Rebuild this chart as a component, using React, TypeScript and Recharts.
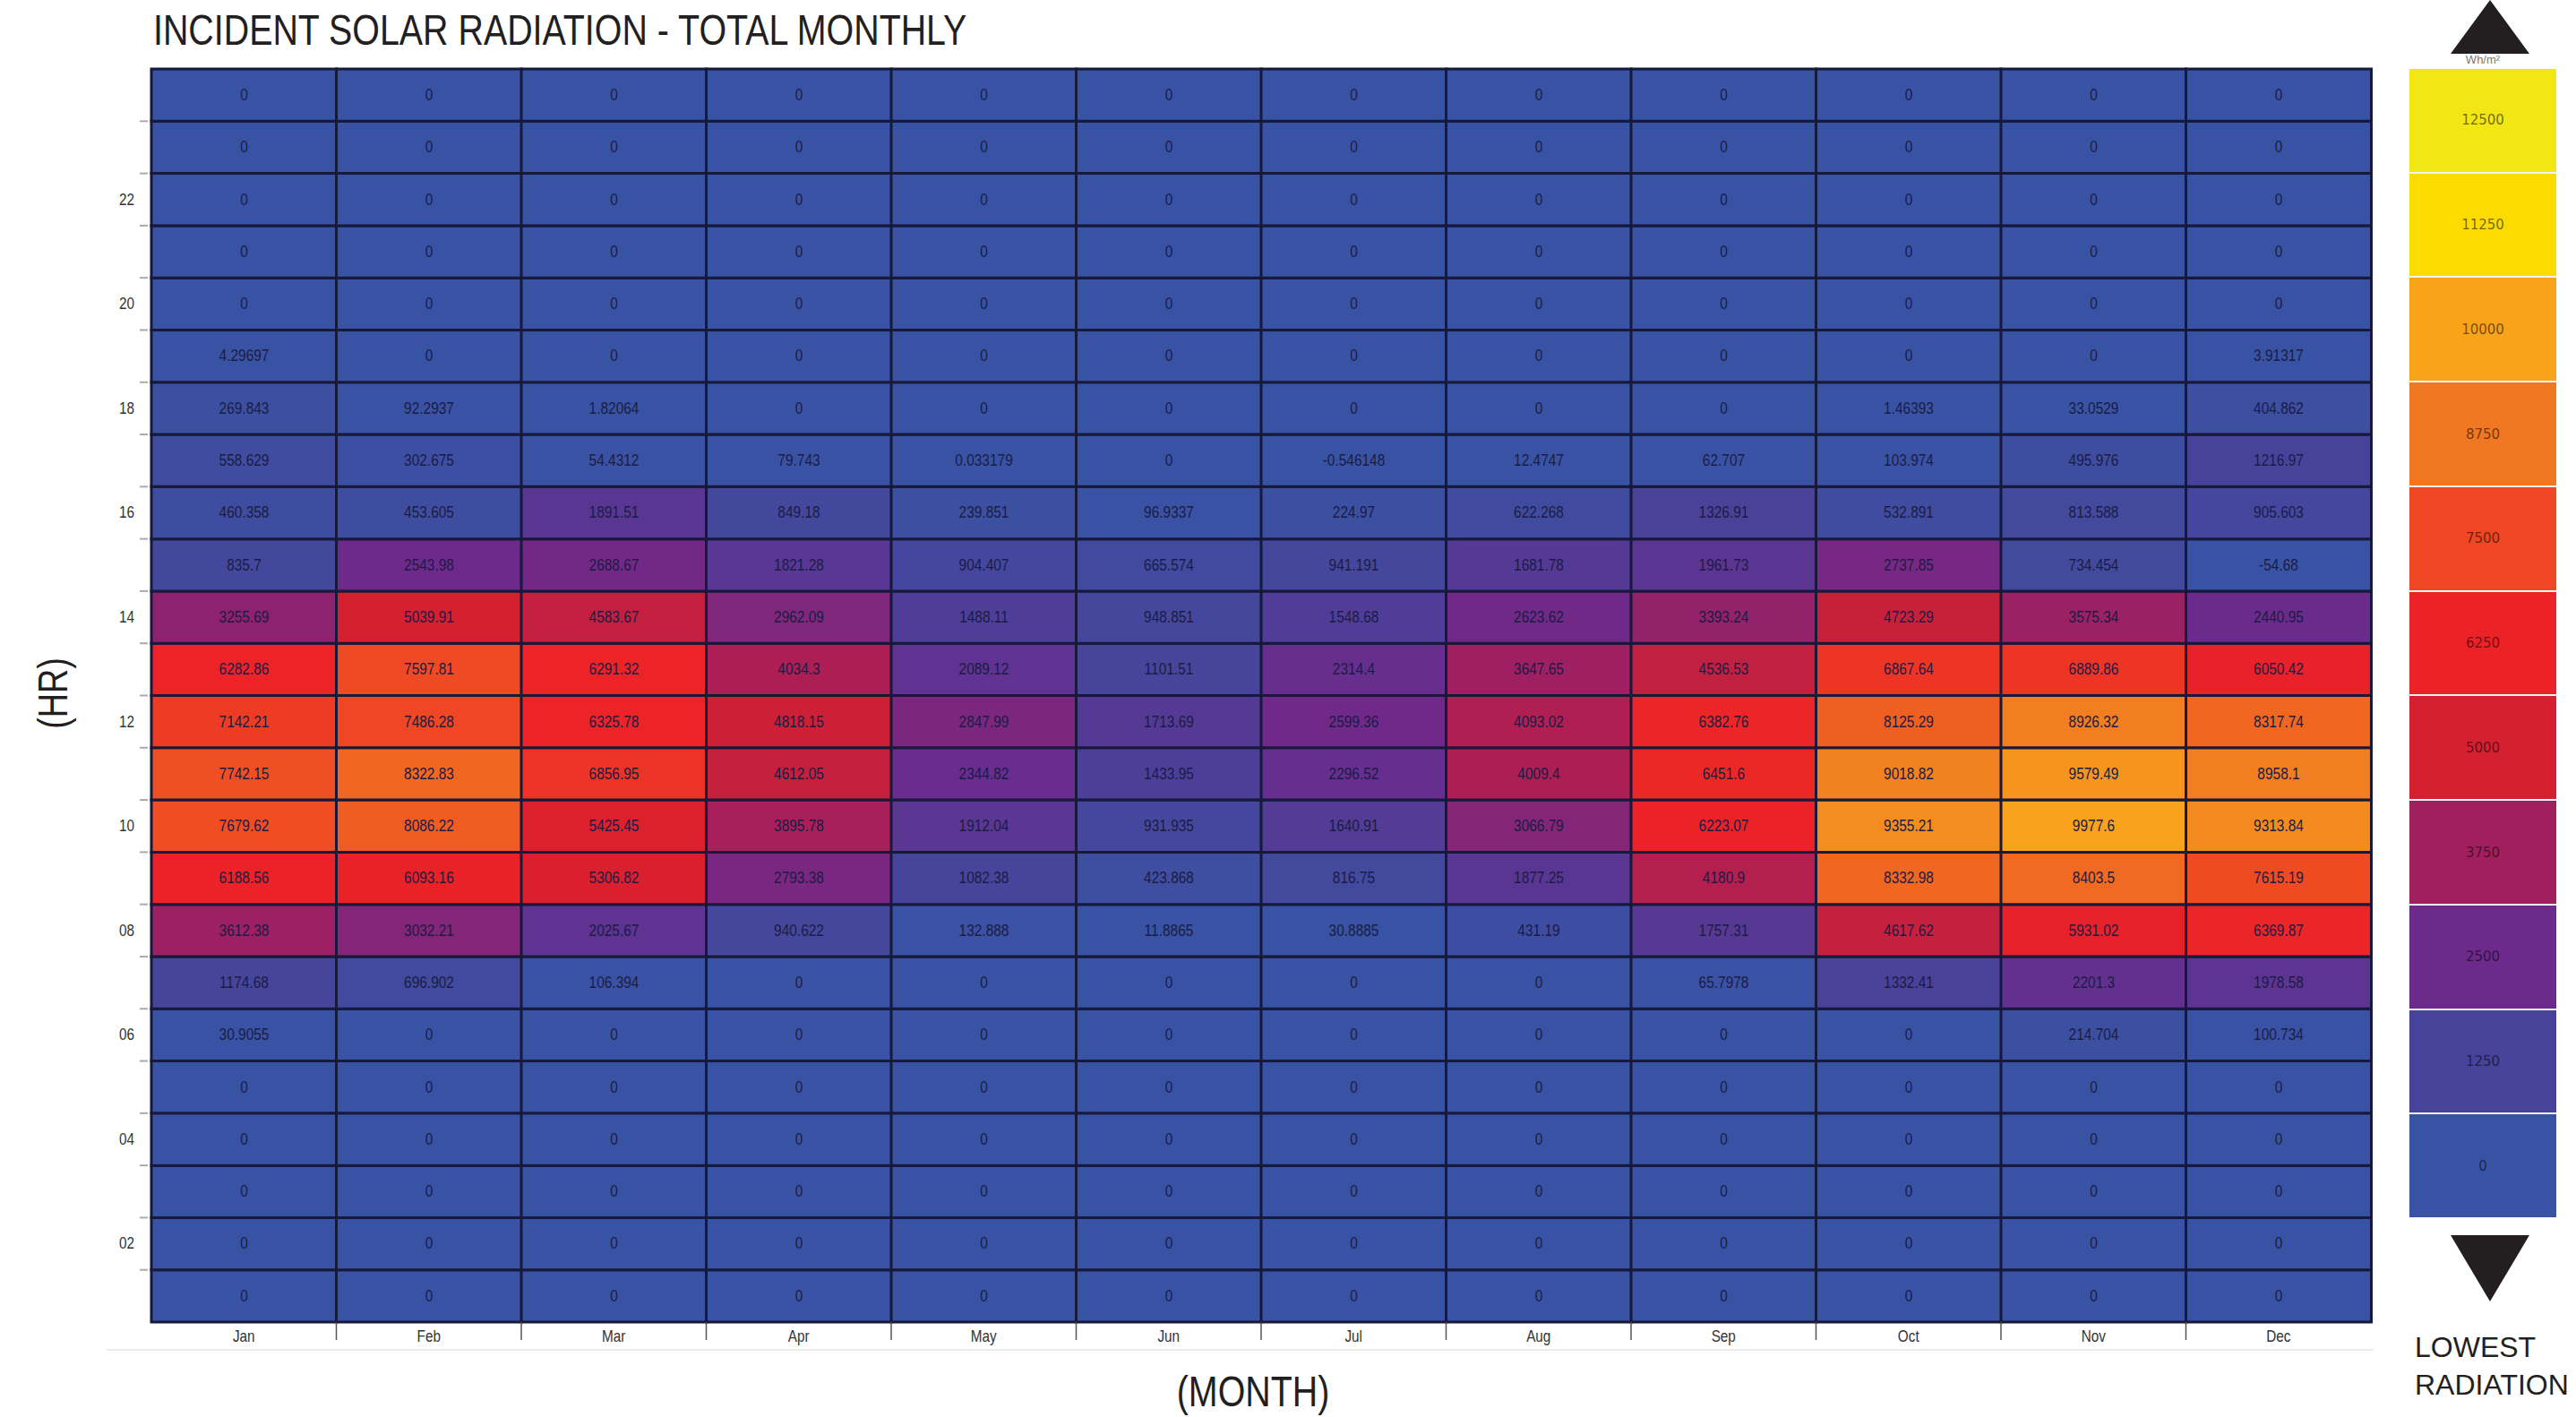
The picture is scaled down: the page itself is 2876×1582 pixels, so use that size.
import React from "react";
import { BarChart, Bar, Cell, LabelList, XAxis, YAxis } from "recharts";

const MONTHS = ["Jan", "Feb", "Mar", "Apr", "May", "Jun", "Jul", "Aug", "Sep", "Oct", "Nov", "Dec"];
const HOURS = [1, 2, 3, 4, 5, 6, 7, 8, 9, 10, 11, 12, 13, 14, 15, 16, 17, 18, 19, 20, 21, 22, 23, 24];
// centre of every hour slot (slot h spans h-1..h)
const HOUR_TICKS = [0.5, 1.5, 2.5, 3.5, 4.5, 5.5, 6.5, 7.5, 8.5, 9.5, 10.5, 11.5, 12.5, 13.5, 14.5, 15.5, 16.5, 17.5, 18.5, 19.5, 20.5, 21.5, 22.5, 23.5];
const LABELLED_HOURS = [2, 4, 6, 8, 10, 12, 14, 16, 18, 20, 22];

// Wh/m2 per hour slot, Jan..Dec
const night = [0, 0, 0, 0, 0, 0, 0, 0, 0, 0, 0, 0];
const hr06 = [30.9055, 0, 0, 0, 0, 0, 0, 0, 0, 0, 214.704, 100.734];
const hr07 = [1174.68, 696.902, 106.394, 0, 0, 0, 0, 0, 65.7978, 1332.41, 2201.3, 1978.58];
const hr08 = [3612.38, 3032.21, 2025.67, 940.622, 132.888, 11.8865, 30.8885, 431.19, 1757.31, 4617.62, 5931.02, 6369.87];
const hr09 = [6188.56, 6093.16, 5306.82, 2793.38, 1082.38, 423.868, 816.75, 1877.25, 4180.9, 8332.98, 8403.5, 7615.19];
const hr10 = [7679.62, 8086.22, 5425.45, 3895.78, 1912.04, 931.935, 1640.91, 3066.79, 6223.07, 9355.21, 9977.6, 9313.84];
const hr11 = [7742.15, 8322.83, 6856.95, 4612.05, 2344.82, 1433.95, 2296.52, 4009.4, 6451.6, 9018.82, 9579.49, 8958.1];
const hr12 = [7142.21, 7486.28, 6325.78, 4818.15, 2847.99, 1713.69, 2599.36, 4093.02, 6382.76, 8125.29, 8926.32, 8317.74];
const hr13 = [6282.86, 7597.81, 6291.32, 4034.3, 2089.12, 1101.51, 2314.4, 3647.65, 4536.53, 6867.64, 6889.86, 6050.42];
const hr14 = [3255.69, 5039.91, 4583.67, 2962.09, 1488.11, 948.851, 1548.68, 2623.62, 3393.24, 4723.29, 3575.34, 2440.95];
const hr15 = [835.7, 2543.98, 2688.67, 1821.28, 904.407, 665.574, 941.191, 1681.78, 1961.73, 2737.85, 734.454, -54.68];
const hr16 = [460.358, 453.605, 1891.51, 849.18, 239.851, 96.9337, 224.97, 622.268, 1326.91, 532.891, 813.588, 905.603];
const hr17 = [558.629, 302.675, 54.4312, 79.743, 0.033179, 0, -0.546148, 12.4747, 62.707, 103.974, 495.976, 1216.97];
const hr18 = [269.843, 92.2937, 1.82064, 0, 0, 0, 0, 0, 0, 1.46393, 33.0529, 404.862];
const hr19 = [4.29697, 0, 0, 0, 0, 0, 0, 0, 0, 0, 0, 3.91317];

// hour 1 .. hour 24
const ROWS = [
  night, night, night, night, night,
  hr06, hr07, hr08, hr09, hr10, hr11, hr12, hr13, hr14, hr15, hr16, hr17, hr18, hr19,
  night, night, night, night, night,
];

const LEGEND_VALUES = [0, 1250, 2500, 3750, 5000, 6250, 7500, 8750, 10000, 11250, 12500];
const LEGEND_COLORS = [
  "#3953a4", "#48439a", "#6c2a8c", "#a21f5e", "#d42030", "#ec2227",
  "#ef4623", "#f07822", "#f9a31b", "#fcdc00", "#f2e614",
];

function hex(c: string) {
  return [1, 3, 5].map((i) => parseInt(c.slice(i, i + 2), 16));
}

function colorFor(v: number) {
  if (v <= LEGEND_VALUES[0]) return LEGEND_COLORS[0];
  for (let i = 1; i < LEGEND_VALUES.length; i++) {
    if (v <= LEGEND_VALUES[i]) {
      const t = (v - LEGEND_VALUES[i - 1]) / (LEGEND_VALUES[i] - LEGEND_VALUES[i - 1]);
      const a = hex(LEGEND_COLORS[i - 1]);
      const b = hex(LEGEND_COLORS[i]);
      const m = a.map((x, k) => Math.round(x + (b[k] - x) * t));
      return `rgb(${m[0]},${m[1]},${m[2]})`;
    }
  }
  return LEGEND_COLORS[LEGEND_COLORS.length - 1];
}

// each month: one stacked slot per hour, plus the value shown in it
const data = MONTHS.map((month, i) => {
  const row: Record<string, string | number> = { month };
  HOURS.forEach((h) => {
    row[`h${h}`] = 1;
    row[`v${h}`] = ROWS[h - 1][i];
  });
  return row;
});

const W = 2876;
const H = 1582;
const PLOT = { left: 169, top: 77, right: 2647, bottom: 1476 };
const ROW_H = (PLOT.bottom - PLOT.top) / 24;
const COL_W = (PLOT.right - PLOT.left) / 12;
const SANS = "'Liberation Sans', Arial, sans-serif";

function HourTick(props: any) {
  const { y, payload } = props;
  const hour = payload.value + 0.5;
  const edge = y - ROW_H / 2;
  return (
    <g>
      {hour < 24 && (
        <line x1={PLOT.left - 13} x2={PLOT.left - 4} y1={edge} y2={edge} stroke="#aaa" strokeWidth={2} />
      )}
      {LABELLED_HOURS.includes(hour) && (
        <text
          x={150}
          y={y}
          textAnchor="end"
          dominantBaseline="central"
          fontSize={18}
          fontFamily={SANS}
          fill="#333"
          transform={`translate(150 ${y}) scale(0.85 1) translate(-150 ${-y})`}
        >
          {String(hour).padStart(2, "0")}
        </text>
      )}
    </g>
  );
}

function MonthTick(props: any) {
  const { x, payload, index } = props;
  const edge = x + COL_W / 2;
  return (
    <g>
      {index < MONTHS.length - 1 && (
        <line x1={edge} x2={edge} y1={PLOT.bottom} y2={PLOT.bottom + 20} stroke="#555" strokeWidth={1.5} />
      )}
      <text
        x={x}
        y={PLOT.bottom + 16}
        textAnchor="middle"
        dominantBaseline="central"
        fontSize={18}
        fontFamily={SANS}
        fill="#333"
        transform={`translate(${x} 0) scale(0.85 1) translate(${-x} 0)`}
      >
        {payload.value}
      </text>
    </g>
  );
}

function CellLabel(props: any) {
  const { x, y, width, height, value } = props;
  const cx = x + width / 2;
  const cy = y + height / 2;
  return (
    <text
      x={cx}
      y={cy}
      textAnchor="middle"
      dominantBaseline="central"
      fontSize={18}
      fontFamily={SANS}
      fill="#1a1c45"
      transform={`translate(${cx} 0) scale(0.86 1) translate(${-cx} 0)`}
    >
      {String(value)}
    </text>
  );
}

const narrow = (origin: string): React.CSSProperties => ({
  fontFamily: SANS,
  color: "#231f20",
  whiteSpace: "nowrap",
  transformOrigin: origin,
});

export default function App() {
  return (
    <div style={{ position: "absolute", left: 0, top: 0, width: W, height: H, background: "#fff" }}>
      <div
        style={{
          ...narrow("left center"), position: "absolute", left: 171, top: 10, fontSize: 48,
          lineHeight: "48px", transform: "scaleX(0.82)",
        }}
      >
        INCIDENT SOLAR RADIATION - TOTAL MONTHLY
      </div>

      <BarChart
        width={W}
        height={H}
        data={data}
        margin={{ top: PLOT.top, right: W - PLOT.right, left: PLOT.left - 50, bottom: H - PLOT.bottom - 30 }}
        barCategoryGap={0}
        barGap={0}
        style={{ position: "absolute", left: 0, top: 0 }}
      >
        <XAxis dataKey="month" height={30} axisLine={false} tickLine={false} tick={MonthTick} interval={0} />
        <YAxis
          type="number"
          domain={[0, 24]}
          ticks={HOUR_TICKS}
          interval={0}
          width={50}
          axisLine={false}
          tickLine={false}
          tick={HourTick}
        />
        {HOURS.map((h) => (
          <Bar
            key={h}
            dataKey={`h${h}`}
            stackId="hours"
            stroke="#17193b"
            strokeWidth={3}
            isAnimationActive={false}
          >
            {MONTHS.map((m, i) => (
              <Cell key={m} fill={colorFor(ROWS[h - 1][i])} />
            ))}
            <LabelList dataKey={`v${h}`} position="center" content={CellLabel} />
          </Bar>
        ))}
      </BarChart>

      <div
        style={{
          ...narrow("center"), position: "absolute", left: 59, top: 774, fontSize: 46,
          transform: "translate(-50%, -50%) rotate(-90deg) scaleX(0.82)",
        }}
      >
        (HR)
      </div>
      <div
        style={{
          ...narrow("center"), position: "absolute", left: 1399, top: 1553, fontSize: 48,
          transform: "translate(-50%, -50%) scaleX(0.82)",
        }}
      >
        (MONTH)
      </div>
      <div style={{ position: "absolute", left: 119, top: 1506, width: 2531, height: 2, background: "#ececec" }} />

      {/* colour scale */}
      <svg width={110} height={62} style={{ position: "absolute", left: 2725, top: 0 }}>
        <polygon points="55,0 99,60 11,60" fill="#231f20" />
      </svg>
      <div
        style={{
          position: "absolute", left: 2772, top: 66, transform: "translate(-50%, -50%)",
          fontFamily: SANS, fontSize: 13, color: "#777",
        }}
      >
        Wh/m²
      </div>
      <div
        style={{
          position: "absolute", left: 2690, top: 77, width: 164, height: 1282,
          display: "flex", flexDirection: "column",
        }}
      >
        {[...LEGEND_VALUES].reverse().map((v, i) => (
          <div
            key={v}
            style={{
              flex: 1, background: LEGEND_COLORS[LEGEND_COLORS.length - 1 - i],
              borderTop: i === 0 ? "none" : "2px solid #f4f4f4",
              display: "flex", alignItems: "center", justifyContent: "center",
              fontFamily: "'DejaVu Sans', sans-serif", fontSize: 15, color: "rgba(0,0,0,0.55)",
            }}
          >
            {v}
          </div>
        ))}
      </div>
      <svg width={110} height={80} style={{ position: "absolute", left: 2725, top: 1377 }}>
        <polygon points="11,2 99,2 55,76" fill="#231f20" />
      </svg>
      <div
        style={{
          position: "absolute", left: 2696, top: 1483, fontFamily: SANS,
          fontSize: 32, lineHeight: "42px", color: "#231f20",
        }}
      >
        LOWEST
        <br />
        RADIATION
      </div>
    </div>
  );
}
